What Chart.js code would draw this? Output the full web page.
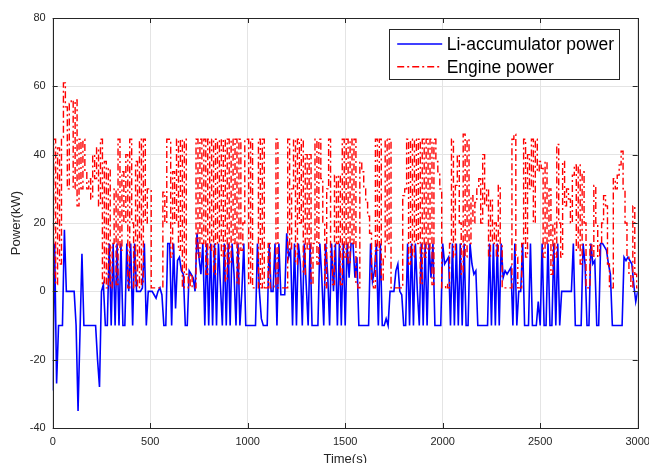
<!DOCTYPE html>
<html>
<head>
<meta charset="utf-8">
<script src="https://cdn.jsdelivr.net/npm/chart.js@4.4.1/dist/chart.umd.min.js"></script>
<style>
  html, body { margin: 0; padding: 0; background: #fff; overflow: hidden; }
  #chart-power { display: block; }
</style>
</head>
<body>
<canvas id="chart-power" width="649" height="470"></canvas>
<script>
// time stamps (s), one row per 100 s
const timeS = [
  0, 10, 20, 30, 40, 50, 60, 70, 80, 90,
  100, 110, 120, 130, 140, 150, 160, 170, 180, 190,
  200, 210, 220, 230, 240, 250, 260, 270, 280, 290,
  300, 310, 320, 330, 340, 350, 360, 370, 380, 390,
  400, 410, 420, 430, 440, 450, 460, 470, 480, 490,
  500, 510, 520, 530, 540, 550, 560, 570, 580, 590,
  600, 610, 620, 630, 640, 650, 660, 670, 680, 690,
  700, 710, 720, 730, 740, 750, 760, 770, 780, 790,
  800, 810, 820, 830, 840, 850, 860, 870, 880, 890,
  900, 910, 920, 930, 940, 950, 960, 970, 980, 990,
  1000, 1010, 1020, 1030, 1040, 1050, 1060, 1070, 1080, 1090,
  1100, 1110, 1120, 1130, 1140, 1150, 1160, 1170, 1180, 1190,
  1200, 1210, 1220, 1230, 1240, 1250, 1260, 1270, 1280, 1290,
  1300, 1310, 1320, 1330, 1340, 1350, 1360, 1370, 1380, 1390,
  1400, 1410, 1420, 1430, 1440, 1450, 1460, 1470, 1480, 1490,
  1500, 1510, 1520, 1530, 1540, 1550, 1560, 1570, 1580, 1590,
  1600, 1610, 1620, 1630, 1640, 1650, 1660, 1670, 1680, 1690,
  1700, 1710, 1720, 1730, 1740, 1750, 1760, 1770, 1780, 1790,
  1800, 1810, 1820, 1830, 1840, 1850, 1860, 1870, 1880, 1890,
  1900, 1910, 1920, 1930, 1940, 1950, 1960, 1970, 1980, 1990,
  2000, 2010, 2020, 2030, 2040, 2050, 2060, 2070, 2080, 2090,
  2100, 2110, 2120, 2130, 2140, 2150, 2160, 2170, 2180, 2190,
  2200, 2210, 2220, 2230, 2240, 2250, 2260, 2270, 2280, 2290,
  2300, 2310, 2320, 2330, 2340, 2350, 2360, 2370, 2380, 2390,
  2400, 2410, 2420, 2430, 2440, 2450, 2460, 2470, 2480, 2490,
  2500, 2510, 2520, 2530, 2540, 2550, 2560, 2570, 2580, 2590,
  2600, 2610, 2620, 2630, 2640, 2650, 2660, 2670, 2680, 2690,
  2700, 2710, 2720, 2730, 2740, 2750, 2760, 2770, 2780, 2790,
  2800, 2810, 2820, 2830, 2840, 2850, 2860, 2870, 2880, 2890,
  2900, 2910, 2920, 2930, 2940, 2950, 2960, 2970, 2980, 2990,
  3000
];

// Li-accumulator power (kW)
const liAccPower = [
  -29, 14, -27, -10, -10, -10, 18, 0, 0, 0,
  0, 0, -10, -35, -12, 11, -10, -10, -10, -10,
  -10, -10, -10, -20, -28, 0, 2, -10, -10, 14,
  -10, 14, -10, 14, -10, 14, -10, -10, 14, 0,
  14, -10, 14, 0, 0, 0, 1, 14, -10, 0,
  0, 0, -1, -2, 0, 1, -1, -10, -10, 14,
  14, -10, 14, -5, 9, 10, 6, 5, -10, -10,
  6, 5, 4, 0, 17, 10, 5, 14, -10, 14,
  -10, 14, -10, 14, -10, 14, 2, -10, 14, -10,
  14, -10, 14, 5, -10, 14, -10, 0, 14, -10,
  -10, -10, -10, -10, -10, 14, 0, -8, -10, -10,
  -10, 14, 0, 0, 14, -10, 14, -1, -1, -1,
  17, 10, 12, -10, 14, -10, 14, 8, -10, 14,
  2, -10, 14, -10, -10, -10, -10, 14, 4, -10,
  14, 5, -10, 14, 0, 14, -10, 14, -10, 14,
  -10, 14, 4, 14, 14, 4, 10, -10, -10, -10,
  -10, -10, -10, 14, 3, 6, 14, -10, 14, -10,
  -10, -8, -10, 0, 0, 0, 6, 8, 0, -1,
  -10, -10, 14, -10, 14, -10, 14, 0, -10, 14,
  -10, 14, -10, 14, 4, 14, -10, -10, -10, -10,
  14, 8, 9, 10, -10, 14, -10, 14, -10, 14,
  -10, 14, -10, -10, 14, 8, 5, 6, -10, -10,
  -10, -10, -10, -10, 14, -10, 14, -10, 14, -10,
  14, 4, 6, 5, 6, 7, -10, 14, -10, 0,
  0, 14, -10, -10, -10, 14, -10, -10, -10, -3,
  -10, 14, -10, -10, 14, -10, -10, 14, -10, 14,
  -10, 0, 0, 0, 0, 0, 0, 14, -10, -10,
  -10, -10, 14, 8, -10, -10, 14, 8, 9, -10,
  -10, 14, 14, 13, 12, 8, 5, -10, -10, -10,
  -10, -10, -10, 10, 9, 10, 9, 8, 2, -3,
  0
];

// Engine power (kW)
const enginePower = [
  5, 44.5, 2, 42, 8, 45, 61, 54, 30, 55,
  56, 30, 56, 25, 44.5, 30, 44.5, 35, 30, 33,
  27, 40, 33, 42, 25, 44.5, 2, 38, 1, 36,
  1, 14, 30, 2, 44.5, 12, 35, 20, 40, 1,
  44.5, 20, 1, 38, 1, 44.5, 2, 44.5, 20, 30,
  30, 1, 1, 1, 1, 1, 1, 29, 20, 44.5,
  44.5, 10, 35, 20, 44.5, 12, 44.5, 1, 44.5, 5,
  1, 5, 1, 1, 44.5, 10, 44.5, 14, 44.5, 5,
  44.5, 12, 44.5, 5, 44.5, 14, 44.5, 10, 44.5, 3,
  44.5, 8, 44.5, 14, 44.5, 2, 44.5, 12, 20, 44.5,
  44.5, 2, 44.5, 1, 1, 1, 44.5, 1, 44.5, 1,
  1, 14, 1, 1, 2, 44.5, 1, 1, 1, 1,
  1, 44.5, 12, 30, 44.5, 8, 44.5, 20, 44.5, 5,
  40, 12, 40, 2, 14, 44.5, 8, 44.5, 33, 20,
  1, 30, 44.5, 10, 2, 34, 14, 34, 2, 44.5,
  10, 44.5, 8, 44.5, 14, 44.5, 2, 1, 38, 35,
  30, 26, 22, 17, 3, 1, 44.5, 12, 44.5, 3,
  10, 44.5, 14, 44.5, 1, 1, 1, 1, 1, 1,
  28, 30, 44.5, 8, 44.5, 10, 44.5, 14, 44.5, 2,
  44.5, 10, 44.5, 12, 44.5, 2, 44.5, 38, 35, 30,
  1, 1, 2, 1, 14, 44.5, 10, 31, 40, 20,
  5, 46, 10, 44.5, 14, 28, 20, 26, 30, 33,
  20, 40, 25, 30, 10, 27, 14, 20, 10, 31,
  14, 1, 1, 1, 1, 1, 44.5, 46, 10, 1,
  1, 14, 44.5, 10, 40, 30, 44.5, 20, 44.5, 35,
  38, 36, 10, 38, 14, 30, 5, 20, 10, 43,
  20, 10, 38, 25, 30, 27, 20, 34, 37, 12,
  37, 8, 35, 20, 1, 1, 14, 10, 31, 20,
  10, 14, 20, 28, 25, 8, 1, 1, 33, 30,
  34, 37, 41, 30, 20, 10, 5, 1, 25, 5,
  1
];

const xTicks = [0, 500, 1000, 1500, 2000, 2500, 3000];
const yTicks = [-40, -20, 0, 20, 40, 60, 80];

const axisColor = '#262626';
const font = 'Arial, "Liberation Sans", Helvetica, sans-serif';

// box round the axes with MATLAB style inward ticks
const axesBox = {
    id: 'axesBox',
    afterDatasetsDraw(chart) {
        const { ctx, chartArea: a, scales } = chart;
        ctx.save();
        ctx.strokeStyle = axisColor;
        ctx.lineWidth = 1;
        ctx.strokeRect(Math.round(a.left) + 0.5, Math.round(a.top) + 0.5,
            Math.round(a.right - a.left), Math.round(a.bottom - a.top));
        ctx.beginPath();
        xTicks.forEach(v => {
            const px = Math.round(scales.x.getPixelForValue(v)) + 0.5;
            ctx.moveTo(px, a.bottom); ctx.lineTo(px, a.bottom - 5);
            ctx.moveTo(px, a.top); ctx.lineTo(px, a.top + 5);
        });
        yTicks.forEach(v => {
            const py = Math.round(scales.y.getPixelForValue(v)) + 0.5;
            ctx.moveTo(a.left, py); ctx.lineTo(a.left + 5, py);
            ctx.moveTo(a.right, py); ctx.lineTo(a.right - 5, py);
        });
        ctx.stroke();
        ctx.restore();
    }
};

// legend box in the upper right of the axes
const boxLegend = {
    id: 'boxLegend',
    afterDraw(chart) {
        const { ctx, chartArea: a } = chart;
        const right = a.right - 18.5, left = right - 230, top = a.top + 11, h = 50;
        ctx.save();
        ctx.fillStyle = '#fff';
        ctx.fillRect(left, top, right - left, h);
        ctx.strokeStyle = axisColor;
        ctx.lineWidth = 1;
        ctx.strokeRect(Math.round(left) + 0.5, Math.round(top) + 0.5, Math.round(right - left), h);
        ctx.font = '17.5px ' + font;
        ctx.textBaseline = 'middle';
        chart.data.datasets.forEach((ds, i) => {
            const y = top + 15 + i * 22.7;
            ctx.beginPath();
            ctx.strokeStyle = ds.borderColor;
            ctx.lineWidth = ds.borderWidth;
            ctx.setLineDash(ds.borderDash || []);
            ctx.moveTo(left + 8, y); ctx.lineTo(left + 53, y);
            ctx.stroke();
            ctx.setLineDash([]);
            ctx.fillStyle = '#000';
            ctx.fillText(ds.label, left + 57.5, y + 1);
        });
        ctx.restore();
    }
};

const data = {
    datasets: [{
        label: 'Li-accumulator power',
        data: timeS.map((t, i) => ({ x: t, y: liAccPower[i] })),
        borderColor: '#0000ff',
        borderWidth: 1.6,
        pointRadius: 0,
        order: 1
    },
    {
        label: 'Engine power',
        data: timeS.map((t, i) => ({ x: t, y: enginePower[i] })),
        borderColor: '#ff0000',
        borderWidth: 1.4,
        borderDash: [7, 3, 2, 3],
        stepped: 'middle',
        pointRadius: 0,
        order: 0
    }]
};

const config = {
    type: 'line',
    data,
    options: {
        responsive: false,
        animation: false,
        layout: { padding: { left: 0, right: 11.3, top: 18, bottom: 0 } },
        plugins: { legend: { display: false }, tooltip: { enabled: false } },
        scales: {
            x: {
                type: 'linear',
                min: 0, max: 3000,
                afterBuildTicks: s => { s.ticks = xTicks.map(v => ({ value: v })); },
                afterFit: s => { s.height = 42; s.paddingLeft = 0; s.paddingRight = 0; },
                ticks: { color: axisColor, font: { size: 11, family: font }, padding: 7, maxRotation: 0, callback: v => String(v) },
                grid: { color: '#e4e4e4', drawTicks: false },
                border: { display: false },
                title: { display: true, text: 'Time(s)', color: axisColor, font: { size: 13, family: font }, padding: { top: 0, bottom: 3 } }
            },
            y: {
                min: -40, max: 80,
                afterBuildTicks: s => { s.ticks = yTicks.map(v => ({ value: v })); },
                afterFit: s => { s.width = 52.7; },
                ticks: { color: axisColor, font: { size: 11, family: font }, padding: 7, callback: v => String(v) },
                grid: { color: '#e4e4e4', drawTicks: false },
                border: { display: false },
                title: { display: true, text: 'Power(kW)', color: axisColor, font: { size: 13, family: font }, padding: { top: 9, bottom: 0 } }
            }
        }
    },
    plugins: [axesBox, boxLegend]
};

const powerChart = new Chart(document.getElementById('chart-power'), config);
</script>
</body>
</html>
